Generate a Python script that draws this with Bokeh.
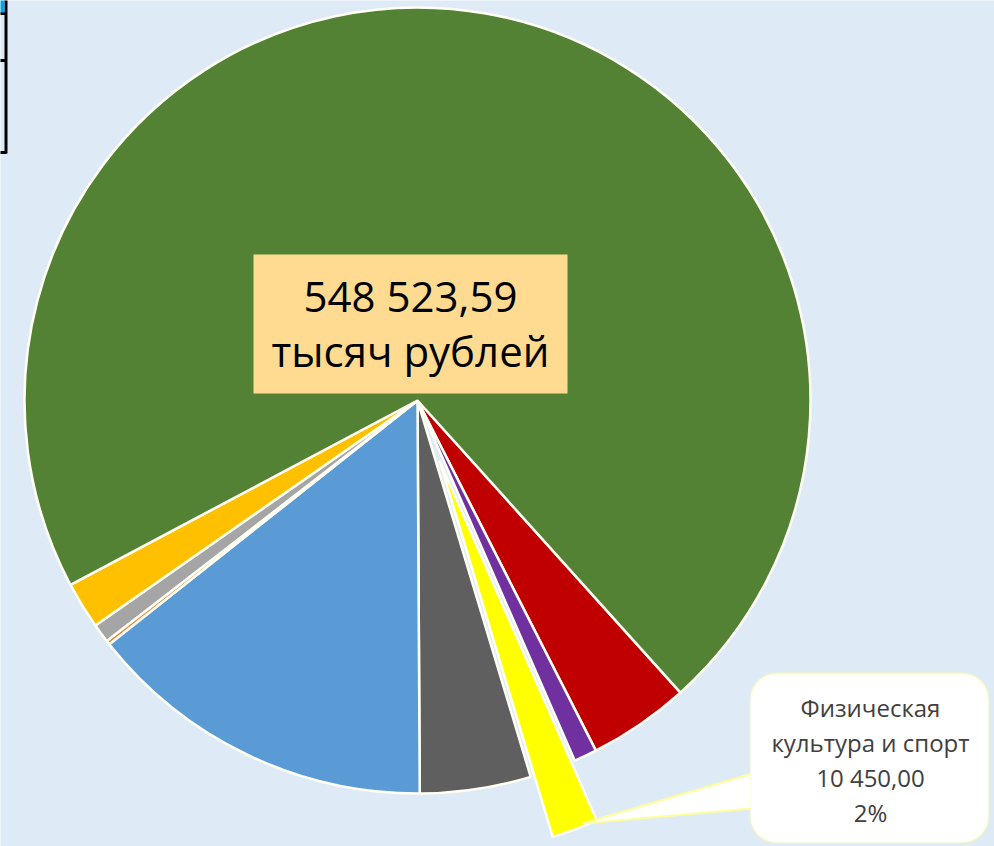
import numpy as np
from bokeh.plotting import figure
from bokeh.models import Range1d, BoxAnnotation, ColumnDataSource, Text
from bokeh.core.properties import value
from bokeh.embed import file_html
from bokeh.resources import INLINE

# ---- data (thousand rubles), clockwise order starting after the big slice ----
categories = [
    "Национальная экономика",
    "Национальная безопасность",
    "Физическая культура и спорт",
    "Культура",
    "Общегосударственные вопросы",
    "Средства массовой информации",
    "Жилищно-коммунальное хозяйство",
    "Социальная политика",
    "Образование",
]
values = [22860.0, 5180.0, 10450.0, 25000.0, 79230.0, 900.0, 4270.0, 10600.0, 390033.59]
colors = ["#C00000", "#7030A0", "#FFFF00", "#5F5F5F", "#5B9BD5",
          "#ED7D31", "#A5A5A5", "#FFC000", "#548235"]
exploded = [0, 0, 1, 0, 0, 0, 0, 0, 0]
total_text = ["548 523,59", "тысяч рублей"]
callout_text = ["Физическая", "культура и спорт", "10 450,00", "2%"]

# ---- layout constants (image pixel space, y measured downward) ----
IMG_W, IMG_H = 994, 846
def Y(y):
    return IMG_H - y

CX, CY, R = 417, 400, 393
START_DEG = -48.0      # boundary between the big slice and the first slice
EXPLODE = 64

p = figure(width=IMG_W, height=IMG_H, x_range=Range1d(0, IMG_W), y_range=Range1d(0, IMG_H),
           output_backend="svg", toolbar_location=None, min_border=0)
p.axis.visible = False
p.grid.visible = False
p.outline_line_color = None
BG = "#DEEBF6"
p.background_fill_color = BG
p.border_fill_color = BG

vals = np.array(values)
total = vals.sum()
spans = vals / total * 2 * np.pi
a = np.deg2rad(START_DEG)
for v, sp, col, ex in zip(vals, spans, colors, exploded):
    hi = a
    lo = a - sp
    mid = (hi + lo) / 2
    dx = EXPLODE * np.cos(mid) if ex else 0
    dy = EXPLODE * np.sin(mid) if ex else 0
    p.wedge(x=CX + dx, y=Y(CY) + dy, radius=R, start_angle=lo, end_angle=hi,
            direction="anticlock", fill_color=col, line_color="#FFFFF4", line_width=2.5)
    a = lo

# callout pointer
p.patch([582, 752, 752], [Y(823), Y(773), Y(808)], fill_color="white",
        line_color="#FFFF9A", line_width=2)
# callout box
p.add_layout(BoxAnnotation(left=750, right=988, top=Y(673), bottom=Y(842),
                           border_radius=26, fill_color="white", fill_alpha=1,
                           line_color="#FFFF9A", line_width=3, level="annotation"))
# center label box
p.add_layout(BoxAnnotation(left=253, right=567, top=Y(254), bottom=Y(393),
                           fill_color="#FFDB92", fill_alpha=1, line_color=None,
                           level="annotation"))

# top-left table fragment
p.segment(x0=[0, 0, 0], y0=[Y(13), Y(60), Y(152)], x1=[6, 6, 6], y1=[Y(13), Y(60), Y(152)],
          line_color="black", line_width=3, level="overlay")
p.segment(x0=[5.5], y0=[Y(0)], x1=[5.5], y1=[Y(153)], line_color="black", line_width=3,
          level="overlay")
p.quad(left=[0], right=[4], top=[Y(0)], bottom=[Y(12)], fill_color="#00A6E8",
       line_color=None, level="overlay")

src1 = ColumnDataSource(dict(x=[410, 410], y=[Y(295), Y(350)], t=total_text))
p.add_glyph(src1, Text(x="x", y="y", text="t", text_font=value("Open Sans"),
                       text_font_size="42px", text_align="center",
                       text_baseline="alphabetic", text_color="#000000"),
            level="overlay")
src2 = ColumnDataSource(dict(x=[870] * 4, y=[Y(707), Y(742), Y(777), Y(812)], t=callout_text))
p.add_glyph(src2, Text(x="x", y="y", text="t", text_font=value("Open Sans"),
                       text_font_size="24px", text_align="center",
                       text_baseline="alphabetic", text_color="#404040"),
            level="overlay")

open("out.html", "w").write(file_html(p, INLINE))
